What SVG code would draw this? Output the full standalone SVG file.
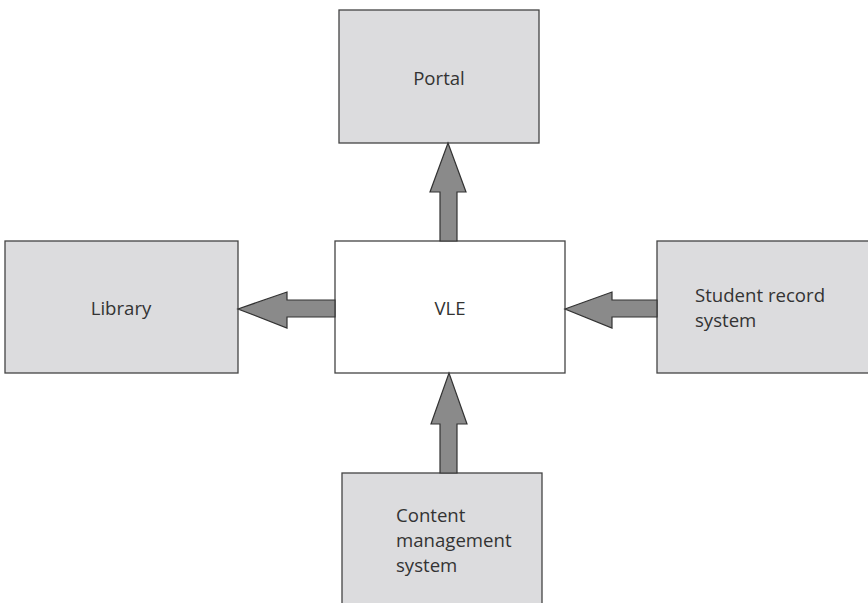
<svg xmlns="http://www.w3.org/2000/svg" width="868" height="603" viewBox="0 0 868 603">
<style>
.box{fill:#dcdcde;stroke:#444;stroke-width:1.3}
.vle{fill:#fff;stroke:#444;stroke-width:1.3}
.arrow{fill:#8a8a8a;stroke:#333;stroke-width:1.2;stroke-linejoin:miter}
text{font-family:"Open Sans","Liberation Sans",sans-serif;font-size:18.6px;fill:#333}
</style>
<rect width="868" height="603" fill="#fff"/>
<g id="portal"><rect class="box" x="339" y="10" width="200" height="133"/><text x="439" y="85" text-anchor="middle">Portal</text></g>
<g id="library"><rect class="box" x="5" y="241" width="233" height="132"/><text x="121" y="315" text-anchor="middle">Library</text></g>
<g id="vle"><rect class="vle" x="335" y="241" width="230" height="132"/><text x="450" y="315" text-anchor="middle">VLE</text></g>
<g id="student"><rect class="box" x="657" y="241" width="214" height="132"/><text x="695" y="302">Student record</text><text x="695" y="327">system</text></g>
<g id="cms"><rect class="box" x="342" y="473" width="200" height="140"/><text x="396" y="522">Content</text><text x="396" y="547">management</text><text x="396" y="572">system</text></g>
<g id="connectors">
<polygon class="arrow" points="440,241 440,192 430,192 448,143 466,192 457,192 457,241"/>
<polygon class="arrow" points="440,473 440,424 431,424 449,373 467,424 457,424 457,473"/>
<polygon class="arrow" points="335,300 287,300 287,292 238,309 287,328 287,317 335,317"/>
<polygon class="arrow" points="657,300 612,300 612,292 565,309 612,328 612,317 657,317"/>
</g>
</svg>
